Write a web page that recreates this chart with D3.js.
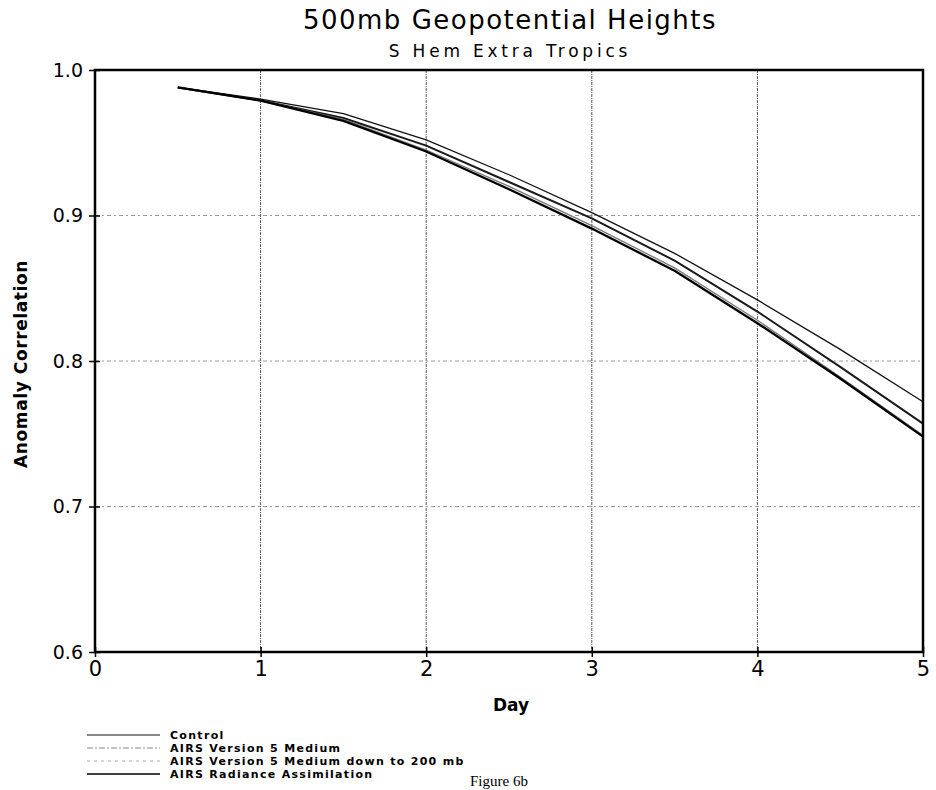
<!DOCTYPE html>
<html><head><meta charset="utf-8">
<script src="https://cdn.jsdelivr.net/npm/d3@7"></script>
<style>body{margin:0;background:#fff}svg{display:block}</style>
</head><body>
<script>
const days = [0.5,1,1.5,2,2.5,3,3.5,4,4.5,5];
const control   = [0.988,0.980,0.970,0.952,0.928,0.902,0.874,0.842,0.808,0.772];
const v5medium  = [0.988,0.979,0.967,0.948,0.923,0.898,0.869,0.834,0.796,0.757];
const v5to200   = [0.988,0.979,0.966,0.945,0.920,0.893,0.864,0.828,0.789,0.749];
const radiance  = [0.988,0.979,0.965,0.944,0.918,0.891,0.862,0.826,0.788,0.748];
const xTicks = [0,1,2,3,4,5];
const yTicks = [0.6,0.7,0.8,0.9,1.0];
const yTickLabels = ["0.6","0.7","0.8","0.9","1.0"];
const title = "500mb Geopotential Heights";
const subtitle = "S Hem Extra Tropics";
const xTitle = "Day";
const yTitle = "Anomaly Correlation";
const legendLabels = ["Control","AIRS Version 5 Medium","AIRS Version 5 Medium  down to 200 mb","AIRS Radiance Assimilation"];
const caption = "Figure 6b";

const W=936,H=790;
const svg=d3.select("body").append("svg").attr("width",W).attr("height",H);
const font="'DejaVu Sans', sans-serif";
const x=d3.scaleLinear().domain([0,5]).range([95,923]);
const y=d3.scaleLinear().domain([0.6,1.0]).range([652,70]);

// grid
const g=svg.append("g");
g.selectAll(".vg").data(xTicks.slice(1,5)).enter().append("line")
 .attr("x1",d=>x(d)).attr("x2",d=>x(d)).attr("y1",y(1)).attr("y2",y(0.6))
 .attr("stroke","#555").attr("stroke-width",1).attr("stroke-dasharray","3,1,1,1");
g.selectAll(".hg").data(yTicks.slice(1,4)).enter().append("line")
 .attr("y1",d=>y(d)).attr("y2",d=>y(d)).attr("x1",x(0)).attr("x2",x(5))
 .attr("stroke","#999").attr("stroke-width",1).attr("stroke-dasharray","4,3,2,3");

// series
const line=d3.line().x((d,i)=>x(days[i])).y(d=>y(d));
const styles=[
 {data:control,color:"#111",w:1.3},
 {data:v5medium,color:"#1a1a1a",w:2},
 {data:v5to200,color:"#777",w:1.3},
 {data:radiance,color:"#000",w:2.3}
];
styles.forEach(s=>{
 svg.append("path").datum(s.data).attr("d",line).attr("fill","none")
  .attr("stroke",s.color).attr("stroke-width",s.w).attr("stroke-linejoin","round");
});

// frame
svg.append("rect").attr("x",x(0)).attr("y",y(1)).attr("width",x(5)-x(0)).attr("height",y(0.6)-y(1))
 .attr("fill","none").attr("stroke","#000").attr("stroke-width",2.5);

// axes
const xAxis=d3.axisBottom(x).tickValues(xTicks).tickSize(5).tickFormat(d3.format("d"));
const xa=svg.append("g").attr("transform",`translate(0,${y(0.6)})`).call(xAxis);
xa.select(".domain").remove();
xa.selectAll("line").attr("stroke","#000").attr("stroke-width",1.5).attr("y1",-5);
xa.selectAll("text").attr("font-family",font).attr("font-size",21).attr("fill","#000").attr("dy","0.95em").attr("y",4);

const yAxis=d3.axisLeft(y).tickValues(yTicks).tickSize(6).tickFormat((d,i)=>yTickLabels[i]);
const ya=svg.append("g").attr("transform",`translate(${x(0)},0)`).call(yAxis);
ya.select(".domain").remove();
ya.selectAll("line").attr("stroke","#000").attr("stroke-width",1.5).attr("x2",-6).attr("x1",5);
ya.selectAll("text").attr("font-family",font).attr("font-size",19).attr("fill","#000").attr("x",-12);

// titles
svg.append("text").attr("x",510).attr("y",29).attr("text-anchor","middle").attr("font-family",font)
 .attr("font-size",26).attr("letter-spacing",1.5).text(title);
svg.append("text").attr("x",510).attr("y",57).attr("text-anchor","middle").attr("font-family",font)
 .attr("font-size",17).attr("letter-spacing",3.8).text(subtitle);
svg.append("text").attr("x",511).attr("y",711).attr("text-anchor","middle").attr("font-family",font)
 .attr("font-size",17).attr("font-weight","bold").text(xTitle);
svg.append("text").attr("transform",`translate(27,364) rotate(-90)`).attr("text-anchor","middle")
 .attr("font-family",font).attr("font-size",17).attr("font-weight","bold").attr("letter-spacing",0.6).text(yTitle);

// legend
const legY=[739,752,765,778];
const legStyles=[
 {c:"#111",w:1,da:null},
 {c:"#888",w:1,da:"6,2,2,2"},
 {c:"#aaa",w:1,da:"3,4"},
 {c:"#000",w:1.3,da:null}
];
legendLabels.forEach((t,i)=>{
 svg.append("line").attr("x1",87).attr("x2",160).attr("y1",legY[i]-4).attr("y2",legY[i]-4)
  .attr("stroke",legStyles[i].c).attr("stroke-width",legStyles[i].w).attr("stroke-dasharray",legStyles[i].da);
 svg.append("text").attr("x",170).attr("y",legY[i]).attr("font-family",font).attr("font-size",11)
  .attr("font-weight","bold").attr("letter-spacing",1.3).text(t);
});
svg.append("text").attr("x",470).attr("y",786).attr("font-family","'Liberation Serif', serif")
 .attr("font-size",15).text(caption);
</script>
</body></html>
